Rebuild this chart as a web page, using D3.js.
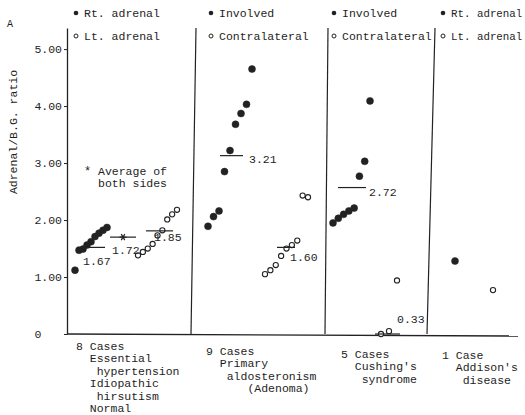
<!DOCTYPE html>
<html>
<head>
<meta charset="utf-8">
<script src="https://cdn.jsdelivr.net/npm/d3@7"></script>
<style>
  body { margin: 0; background: #fff; }
  svg text { font-family: "Liberation Mono", "DejaVu Sans Mono", monospace; fill: #1e1e1e; white-space: pre; }
</style>
</head>
<body>
<div id="main"></div>
<script>
// values (adrenal / background ratio)
const rtAdrenalNormal = [1.12, 1.47, 1.49, 1.56, 1.62, 1.71, 1.77, 1.82, 1.87];
const ltAdrenalNormal = [1.38, 1.44, 1.50, 1.58, 1.73, 1.82, 2.01, 2.10, 2.18];
const involvedAldo = [1.89, 2.06, 2.16, 2.85, 3.22, 3.68, 3.87, 4.03, 4.65];
const contraAldo = [1.05, 1.12, 1.21, 1.37, 1.50, 1.56, 1.64, 2.43, 2.40];
const involvedCushing = [1.95, 2.03, 2.10, 2.16, 2.21, 2.77, 3.03, 4.09];
const contraCushing = [0.0, 0.05, 0.94];
const rtAddison = [1.28];
const ltAddison = [0.77];

// short bars drawn at the group averages, and their printed labels
const meanLineValues = [1.52, 1.70, 1.81, 3.13, 1.52, 2.57, 0.0];
const meanLabels = ["1.67", "1.72", "1.85", "3.21", "1.60", "2.72", "0.33"];

const tickValues = [0, 1, 2, 3, 4, 5];

const legendFilled = ["Rt. adrenal", "Involved", "Involved", "Rt. adrenal"];
const legendOpen = ["Lt. adrenal", "Contralateral", "Contralateral", "Lt. adrenal"];

const groupLabels = [
  ["8 Cases", "  Essential", "   hypertension", "  Idiopathic", "   hirsutism", "  Normal"],
  ["9 Cases", "  Primary", "   aldosteronism", "      (Adenoma)"],
  ["5 Cases", "  Cushing's", "   syndrome"],
  ["1 Case", "  Addison's", "   disease"]
];

const ctx = {
  W: 525,
  H: 415,
  axisX: 67,
  top: 28,
  right: 518
};

function createViz() {
  const svg = d3.select("#main").append("svg")
      .attr("width", ctx.W)
      .attr("height", ctx.H);
  const g = svg.append("g");

  const yScale = d3.scaleLinear().domain([0, 5.37]).range([334, ctx.top]);

  // y axis
  const ax = g.append("g")
      .attr("transform", `translate(${ctx.axisX},0)`)
      .call(d3.axisLeft(yScale)
          .tickValues(tickValues)
          .tickSize(3)
          .tickSizeOuter(0)
          .tickFormat(d => d === 0 ? "0" : d3.format(".2f")(d)));
  ax.select(".domain").attr("stroke", "#222").attr("stroke-width", 1.3);
  ax.selectAll(".tick line").attr("stroke", "#222");
  ax.selectAll(".tick text")
      .style("font-size", "11.5px")
      .attr("x", -5)
      .attr("fill", "#222");
  ax.selectAll(".tick text").filter(d => d === 0)
      .attr("x", -29).style("text-anchor", "middle");

  g.append("text")
      .attr("transform", `translate(17,132) rotate(-90)`)
      .style("text-anchor", "middle")
      .style("font-size", "11.5px")
      .text("Adrenal/B.G. ratio");

  g.append("text")
      .attr("x", 7).attr("y", 27)
      .style("font-size", "10px")
      .text("A");

  // baseline and panel dividers (hand drawn, slightly slanted)
  g.append("line")
      .attr("x1", ctx.axisX).attr("y1", yScale(0))
      .attr("x2", ctx.right).attr("y2", yScale(0) + 2)
      .attr("stroke", "#222").attr("stroke-width", 1.4);

  const dividers = [[196, 191], [328, 325], [435, 427]];
  g.selectAll(".divider").data(dividers).enter().append("line")
      .attr("x1", d => d[0]).attr("y1", ctx.top)
      .attr("x2", d => d[1]).attr("y2", yScale(0))
      .attr("stroke", "#222").attr("stroke-width", 1.2);

  // legends per panel
  const legendX = [76, 211, 334, 443];
  const legendSize = ["11.5px", "11.5px", "11.5px", "10.8px"];
  legendFilled.forEach((t, i) => {
    g.append("circle").attr("cx", legendX[i]).attr("cy", 13).attr("r", 2.3).attr("fill", "#222");
    g.append("text").attr("x", legendX[i] + 8).attr("y", 17)
        .style("font-size", legendSize[i]).text(t);
  });
  legendOpen.forEach((t, i) => {
    g.append("circle").attr("cx", legendX[i]).attr("cy", 36).attr("r", 2)
        .attr("fill", "none").attr("stroke", "#222").attr("stroke-width", 1);
    g.append("text").attr("x", legendX[i] + 8).attr("y", 40)
        .style("font-size", legendSize[i]).text(t);
  });

  // points: each series spread by index over its own span
  const series = [
    {data: rtAdrenalNormal, filled: true, span: [75, 107]},
    {data: ltAdrenalNormal, filled: false, span: [138, 177]},
    {data: involvedAldo, filled: true, span: [208, 252]},
    {data: contraAldo, filled: false, span: [265, 308]},
    {data: involvedCushing, filled: true, span: [333, 370]},
    {data: contraCushing, filled: false, span: [381, 397]},
    {data: rtAddison, filled: true, span: [455, 455]},
    {data: ltAddison, filled: false, span: [493, 493]}
  ];

  series.forEach(s => {
    const xs = d3.scaleLinear().domain([0, s.data.length - 1]).range(s.span);
    g.append("g").selectAll("circle")
      .data(s.data)
      .enter().append("circle")
        .attr("cx", (d, i) => xs(i))
        .attr("cy", d => yScale(d))
        .attr("r", s.filled ? 3.5 : 2.6)
        .attr("fill", s.filled ? "#222" : "#fff")
        .attr("stroke", "#222")
        .attr("stroke-width", s.filled ? 0.5 : 1.1);
  });

  // average bars with labels
  const meanLayout = [
    {span: [77, 105], lx: 83, ldy: 14},
    {span: [110, 136], lx: 112, ldy: 13, star: true},
    {span: [146, 173], lx: 154, ldy: 6},
    {span: [220, 243], lx: 249, ldy: 3},
    {span: [277, 295], lx: 290, ldy: 10},
    {span: [338, 366], lx: 369, ldy: 4},
    {span: [375, 400], lx: 397, ldy: -15}
  ];

  const starPath = d3.path();
  [0, 60, 120].forEach(a => {
    const r = 3.5, t = a * Math.PI / 180;
    starPath.moveTo(-r * Math.cos(t), -r * Math.sin(t));
    starPath.lineTo(r * Math.cos(t), r * Math.sin(t));
  });

  meanLineValues.forEach((v, i) => {
    const L = meanLayout[i];
    const y = yScale(v);
    g.append("line")
        .attr("x1", L.span[0]).attr("x2", L.span[1])
        .attr("y1", y).attr("y2", y)
        .attr("stroke", "#222").attr("stroke-width", 1.2);
    if (L.star) {
      g.append("path")
          .attr("transform", `translate(${(L.span[0] + L.span[1]) / 2},${y})`)
          .attr("d", starPath.toString())
          .attr("stroke", "#222").attr("stroke-width", 1.2).attr("fill", "none");
    }
    g.append("text")
        .attr("x", L.lx).attr("y", y + L.ldy)
        .attr("dy", "0.35em")
        .style("font-size", "11.5px")
        .text(meanLabels[i]);
  });

  // note on the asterisk
  g.append("text").attr("x", 84).attr("y", 175).style("font-size", "12px").text("*");
  g.append("text").attr("x", 98).attr("y", 175).style("font-size", "11.5px").text("Average of");
  g.append("text").attr("x", 98).attr("y", 187).style("font-size", "11.5px").text("both sides");

  // group captions under the baseline
  const captionPos = [[76, 346], [206, 351], [341, 354], [442, 355]];
  groupLabels.forEach((lines, i) => {
    const t = g.append("text")
        .attr("x", captionPos[i][0]).attr("y", captionPos[i][1] + 4)
        .style("font-size", "11.5px");
    lines.forEach((ln, j) => {
      t.append("tspan")
          .attr("x", captionPos[i][0])
          .attr("dy", j === 0 ? 0 : 12.4)
          .text(ln);
    });
  });
}

createViz();
</script>
</body>
</html>
